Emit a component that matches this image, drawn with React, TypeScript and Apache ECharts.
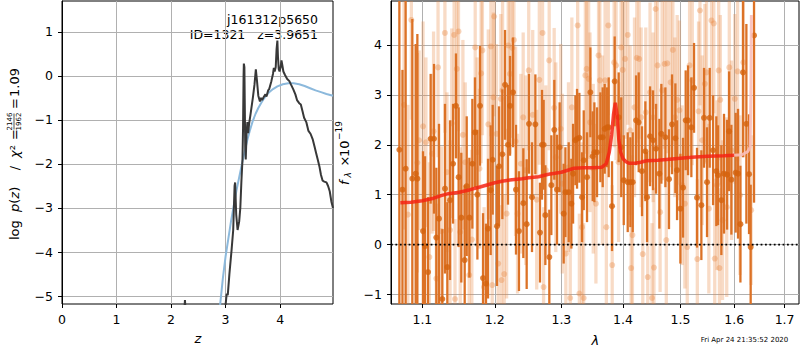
import { useEffect, useRef } from "react";
import * as echarts from "echarts";

// ---------------- Left panel: log p(z) ----------------
const Z_TICKS = [0, 1, 2, 3, 4];
const LOGP_TICKS = [-5, -4, -3, -2, -1, 0, 1];
const Z_LIMITS = [0, 4.97];
const LOGP_LIMITS = [-5.18, 1.7];

// [z, log p(z)] – isolated low-z blip
const PZ_BLIP: [number, number][] = [
  [2.245, -5.3], [2.255, -5.09], [2.265, -5.3],
];
// [z, log p(z)] – main solution
const PZ_CURVE: [number, number][] = [
  [2.99, -5.3], [3.0, -5.2], [3.02, -4.95], [3.04, -4.98], [3.07, -4.5],
  [3.11, -3.95], [3.14, -3.5], [3.165, -2.5], [3.175, -2.42], [3.195, -3.15],
  [3.22, -3.5], [3.25, -3.3], [3.27, -3.0], [3.29, -2.4], [3.31, -1.9],
  [3.32, -1.2], [3.33, 0.0], [3.335, 0.28], [3.345, 0.2], [3.36, -1.6],
  [3.37, -1.9], [3.385, -1.3], [3.4, -1.05], [3.415, -1.3], [3.43, -1.1],
  [3.46, -0.85], [3.5, -0.5], [3.53, -0.2], [3.555, 0.15], [3.575, -0.1],
  [3.6, -0.45], [3.63, -0.58], [3.65, -0.5], [3.67, -0.55], [3.7, -0.48],
  [3.73, -0.42], [3.75, -0.47], [3.78, -0.33], [3.8, -0.3], [3.84, -0.12],
  [3.87, 0.05], [3.885, 0.18], [3.9, 0.1], [3.92, 0.2], [3.935, 0.6],
  [3.95, 0.8], [3.96, 0.45], [3.975, 0.15], [3.99, 0.1], [4.01, 0.2],
  [4.025, 0.35], [4.04, 0.25], [4.06, 0.1], [4.09, 0.02], [4.13, -0.07],
  [4.17, -0.12], [4.2, -0.2], [4.24, -0.3], [4.28, -0.42], [4.31, -0.55],
  [4.35, -0.62], [4.38, -0.65], [4.41, -0.8], [4.44, -0.95], [4.48, -1.05],
  [4.52, -1.25], [4.56, -1.32], [4.6, -1.45], [4.63, -1.6], [4.66, -1.75],
  [4.69, -1.9], [4.72, -2.05], [4.75, -2.25], [4.78, -2.38], [4.81, -2.4],
  [4.85, -2.42], [4.88, -2.5], [4.91, -2.62], [4.94, -2.85], [4.97, -3.0],
];

// [z, log prior]
const PRIOR_CURVE: [number, number][] = [
  [2.89, -5.35], [2.9, -5.2], [2.95, -4.6], [3.0, -4.1], [3.05, -3.7], [3.1, -3.3],
  [3.15, -2.95], [3.2, -2.6], [3.25, -2.3], [3.3, -2.0], [3.35, -1.72],
  [3.4, -1.45], [3.45, -1.22], [3.5, -1.02], [3.55, -0.86], [3.6, -0.73],
  [3.65, -0.62], [3.7, -0.52], [3.75, -0.44], [3.8, -0.37], [3.87, -0.3],
  [3.95, -0.24], [4.05, -0.19], [4.15, -0.17], [4.25, -0.17], [4.35, -0.19],
  [4.45, -0.23], [4.55, -0.28], [4.65, -0.33], [4.75, -0.37], [4.85, -0.41],
  [4.97, -0.45],
];

// ---------------- Right panel: spectrum ----------------
const LAMBDA_TICKS = [1.1, 1.2, 1.3, 1.4, 1.5, 1.6, 1.7];
const FLUX_TICKS = [-1, 0, 1, 2, 3, 4];
const LAMBDA_LIMITS = [1.0593, 1.7297];
const FLUX_LIMITS = [-1.19, 4.88];

// [lambda, flux, error] – darker spectrum
const SPEC_MAIN: [number, number, number][] = [
  [1.07, 1.9, 3.5], [1.074, 1.1, 2.4], [1.0781, 1.52, 3.4], [1.0868, 1.32, 3.2],
  [1.0912, 1.42, 2.6], [1.0934, 1.32, 2.9], [1.1008, 0.27, 1.6], [1.1035, -0.03, 1.8],
  [1.1075, -0.55, 1.5], [1.111, 2.12, 1.3], [1.1155, 2.12, 1.5], [1.1186, 0.14, 1.4],
  [1.1222, 0.52, 1.9], [1.1267, -1.09, 1.4], [1.1303, 1.12, 1.7], [1.1335, -0.45, 1.3],
  [1.1372, 0.89, 1.6], [1.1413, 1.62, 1.2], [1.1453, 2.78, 1.05], [1.149, 1.35, 1.4],
  [1.1527, 0.54, 1.3], [1.1574, -0.31, 1.5], [1.1602, 1.17, 1.4], [1.1639, 0.54, 1.2],
  [1.1681, 1.62, 1.3], [1.1718, 2.25, 1.1], [1.1752, 1.0, 1.3], [1.1789, 2.78, 1.2],
  [1.1832, -0.67, 1.3], [1.1874, -0.78, 1.2], [1.1903, 0.32, 1.4], [1.1941, 1.09, 1.3],
  [1.197, 1.7, 1.1], [1.2032, 0.37, 1.2], [1.2061, 1.57, 1.2], [1.211, 1.81, 1.3],
  [1.2149, 3.2, 1.1], [1.2192, 2.0, 1.2], [1.2222, 2.78, 1.0], [1.2266, 3.05, 1.1],
  [1.231, 1.1, 1.3], [1.2354, 0.27, 1.2], [1.2419, 0.83, 1.1], [1.2469, 0.41, 1.3],
  [1.2504, 2.42, 1.0], [1.2549, 0.95, 1.1], [1.26, 2.41, 1.0], [1.267, 0.24, 1.0],
  [1.2701, 2.0, 1.1], [1.2726, 2.0, 0.9], [1.2752, 0.59, 1.0], [1.2813, -0.25, 0.95],
  [1.2844, 1.19, 1.0], [1.289, 2.3, 1.0], [1.2932, 1.1, 1.1], [1.2973, 1.95, 0.9],
  [1.3036, 0.62, 1.0], [1.3063, 1.05, 0.9], [1.3115, 1.05, 1.0], [1.3157, 0.82, 0.9],
  [1.3184, 1.42, 1.0], [1.3221, 2.09, 0.9], [1.3247, 2.12, 1.0], [1.3284, 2.14, 0.9],
  [1.3327, 0.95, 0.9], [1.3354, 1.69, 1.0], [1.3407, 1.35, 0.9], [1.3461, 3.05, 0.9],
  [1.3499, 1.77, 0.9], [1.3526, 1.85, 1.0], [1.3569, 1.85, 0.9], [1.3624, 2.15, 0.9],
  [1.3662, 2.15, 1.0], [1.3695, 2.32, 0.9], [1.3733, 2.35, 0.8], [1.3761, 2.35, 1.0],
  [1.3816, 0.77, 0.9], [1.386, 3.27, 0.9], [1.3927, 2.55, 0.9], [1.397, 1.95, 1.0],
  [1.4012, 1.29, 0.9], [1.4079, 1.25, 1.0], [1.4124, 1.25, 0.9], [1.4164, 1.25, 1.0],
  [1.4221, 2.49, 0.9], [1.4266, 2.45, 1.0], [1.4323, 1.47, 0.9], [1.4381, 1.87, 1.0],
  [1.441, 0.95, 0.9], [1.4462, 2.17, 1.0], [1.4514, 2.09, 1.0], [1.4567, 1.92, 0.9],
  [1.4625, 1.42, 1.1], [1.466, 2.22, 1.0], [1.4731, 2.15, 1.0], [1.4795, 1.31, 1.0],
  [1.4849, 2.41, 1.0], [1.4909, 2.13, 1.1], [1.4939, 1.49, 1.0], [1.4999, 0.72, 1.1],
  [1.5047, 1.14, 1.0], [1.5095, 2.49, 1.0], [1.5138, 2.49, 1.1], [1.5198, 2.35, 1.0],
  [1.5247, 3.14, 0.9], [1.5302, 0.94, 1.0], [1.5382, 0.79, 1.1], [1.5431, 2.54, 1.0],
  [1.5487, 1.25, 1.1], [1.5537, 2.54, 1.0], [1.56, 1.89, 1.1], [1.5661, 1.47, 1.1],
  [1.5693, 1.39, 1.0], [1.5756, 0.89, 1.1], [1.5806, 1.42, 1.2], [1.5865, 1.4, 1.1],
  [1.5903, 2.27, 1.2], [1.5947, 1.3, 1.1], [1.603, 1.44, 1.2], [1.6075, 1.42, 1.3],
  [1.6121, 0.41, 1.17], [1.6172, 3.45, 1.7], [1.6237, 2.42, 2.0], [1.6289, 1.41, 1.2],
  [1.6321, -0.05, 1.25], [1.6387, 4.19, 3.35],
];

// [lambda, flux, error] – paler spectrum
const SPEC_ALT: [number, number, number][] = [
  [1.076, 2.8, 2.5], [1.081, 0.6, 2.2], [1.0855, 4.5, 2.0], [1.0934, 1.64, 2.2],
  [1.0956, 2.09, 1.8], [1.1009, 2.37, 2.1], [1.1047, 2.05, 1.7], [1.1093, -0.25, 1.9],
  [1.113, 1.82, 1.6], [1.1149, 2.27, 2.0], [1.1186, -0.68, 1.5], [1.1209, 3.55, 1.8],
  [1.1256, 0.27, 1.7], [1.1302, 4.24, 2.0], [1.133, 1.45, 1.6], [1.1372, 0.29, 1.8],
  [1.1395, 2.43, 1.9], [1.1428, 4.2, 1.7], [1.144, -1.09, 1.6], [1.1465, 3.52, 1.8],
  [1.1488, 4.27, 2.0], [1.1512, 0.25, 1.7], [1.1549, 2.2, 1.9], [1.1581, 1.65, 1.6],
  [1.1637, -0.61, 1.5], [1.1674, 0.1, 1.8], [1.1721, 3.95, 1.7], [1.1748, 1.85, 1.9],
  [1.1781, 1.52, 1.6], [1.1805, 3.43, 1.8], [1.1823, 3.89, 1.7], [1.1847, -0.85, 1.6],
  [1.1907, 2.41, 1.9], [1.1944, 3.97, 1.8], [1.1963, -0.81, 1.5], [1.198, 2.95, 1.7],
  [1.1991, 4.57, 2.0], [1.2025, 2.22, 1.8], [1.2049, -0.38, 1.6], [1.2088, 2.92, 1.7],
  [1.2098, -0.71, 1.5], [1.2113, 3.09, 1.8], [1.2137, -0.59, 1.6], [1.2172, 0.62, 1.7],
  [1.2196, 3.99, 1.9], [1.2221, 3.42, 1.6], [1.2255, 3.94, 1.8], [1.2279, 4.1, 1.7],
  [1.2304, 2.07, 1.9], [1.2333, 0.62, 1.6], [1.2382, 1.62, 1.8], [1.2417, 2.55, 1.7],
  [1.2456, 1.49, 1.9], [1.25, 3.49, 1.6], [1.256, 2.6, 1.7], [1.262, 0.9, 1.8],
  [1.266, 3.3, 1.7], [1.2709, 4.24, 1.8], [1.2725, -0.85, 1.6], [1.276, 1.49, 1.7],
  [1.2811, 3.69, 1.8], [1.2888, 2.74, 1.6], [1.2913, 1.75, 1.9], [1.299, 2.32, 1.7],
  [1.3016, 1.22, 1.8], [1.307, -0.18, 1.6], [1.3112, 1.55, 1.7], [1.3139, -1.07, 1.5],
  [1.3165, 2.75, 1.8], [1.3257, 4.39, 1.9], [1.3284, -0.98, 1.6], [1.3326, 0.35, 1.7],
  [1.3353, -1.07, 1.5], [1.338, 3.39, 1.8], [1.3401, 3.52, 1.7], [1.3433, 3.32, 1.6],
  [1.3455, 2.45, 1.8], [1.3508, 1.52, 1.7], [1.3551, 0.82, 1.6], [1.3594, 3.79, 1.8],
  [1.3615, 3.29, 1.7], [1.3658, 1.89, 1.9], [1.3701, 3.29, 1.6], [1.3722, 0.35, 1.7],
  [1.3754, 4.39, 1.8], [1.3819, -0.41, 1.6], [1.3851, 3.65, 1.7], [1.3883, 3.59, 1.9],
  [1.3925, 1.65, 1.6], [1.3968, 3.95, 1.8], [1.3995, 3.5, 1.7], [1.4034, 3.72, 1.6],
  [1.408, 4.2, 1.8], [1.412, 2.29, 1.7], [1.4137, -0.47, 1.5], [1.4159, 0.19, 1.6],
  [1.4194, 2.75, 1.8], [1.4234, 3.74, 1.7], [1.4274, 3.72, 1.6], [1.4308, 2.55, 1.8],
  [1.4336, -0.19, 1.6], [1.4388, 2.65, 1.7], [1.4422, -0.65, 1.6], [1.4462, 3.05, 1.8],
  [1.4496, -1.07, 1.5], [1.4515, 2.55, 1.7], [1.453, -0.46, 1.6], [1.4559, 4.72, 2.0],
  [1.4593, 3.59, 1.7], [1.4638, 0.65, 1.6], [1.4673, 3.09, 1.8], [1.4718, 3.62, 1.7],
  [1.4747, 0.09, 1.6], [1.4764, 3.63, 1.8], [1.4823, 3.25, 1.7], [1.4864, 3.9, 1.9],
  [1.49, 2.55, 1.6], [1.4941, 2.9, 1.7], [1.4982, 2.69, 1.8], [1.5031, 1.19, 1.6],
  [1.508, 0.82, 1.7], [1.5123, -0.05, 1.6], [1.5166, 3.59, 1.8], [1.5215, 3.29, 1.7],
  [1.5307, -0.29, 1.6], [1.533, 2.67, 1.8], [1.5356, 4.69, 1.9], [1.5398, 2.09, 1.7],
  [1.5447, 3.22, 1.6], [1.5478, 3.45, 1.8], [1.5521, 0.72, 1.7], [1.557, 4.49, 1.9],
  [1.5613, 4.43, 1.8], [1.5631, -0.28, 1.6], [1.5674, 1.19, 1.7], [1.5705, 3.49, 1.8],
  [1.572, -0.47, 1.6], [1.5736, 2.9, 1.7], [1.5778, 0.49, 1.6], [1.5858, 0.75, 1.8],
  [1.5907, 3.55, 1.7], [1.595, 1.89, 1.8], [1.6013, 2.92, 1.7], [1.6066, 3.47, 1.8],
  [1.6112, 0.99, 1.6], [1.6178, 3.65, 1.9], [1.633, 0.69, 1.5],
];

// [lambda, flux] – model
const MODEL: [number, number][] = [
  [1.0713, 0.84], [1.085, 0.85], [1.1, 0.88], [1.115, 0.93], [1.125, 0.98],
  [1.135, 1.02], [1.15, 1.05], [1.165, 1.1], [1.18, 1.16], [1.19, 1.2],
  [1.2, 1.24], [1.21, 1.27], [1.225, 1.3], [1.24, 1.32], [1.25, 1.34],
  [1.265, 1.36], [1.28, 1.41], [1.29, 1.43], [1.3, 1.45], [1.31, 1.49],
  [1.32, 1.53], [1.335, 1.54], [1.35, 1.54], [1.365, 1.55], [1.372, 1.62],
  [1.377, 1.85], [1.381, 2.2], [1.384, 2.6], [1.387, 2.84], [1.39, 2.6],
  [1.393, 2.1], [1.396, 1.85], [1.4, 1.72], [1.405, 1.66], [1.41, 1.63],
  [1.42, 1.63], [1.43, 1.65], [1.44, 1.68], [1.46, 1.69], [1.48, 1.71],
  [1.5, 1.73], [1.52, 1.75], [1.55, 1.77], [1.58, 1.78], [1.6, 1.79],
];
const MODEL_TAIL: [number, number][] = [
  [1.6, 1.79], [1.615, 1.8], [1.626, 1.86], [1.631, 1.95], [1.6325, 3.0], [1.6335, 4.6],
];

const FONT = "DejaVu Sans";
const minus = (v: number) => String(v).replace("-", "\u2212");

const txt = (text: string, x: number, y: number, align: string, size = 13, italic = false) => ({
  type: "text",
  x,
  y,
  silent: true,
  style: {
    text,
    fontSize: size,
    fontFamily: FONT,
    fontStyle: italic ? "italic" : "normal",
    fill: "#000",
    align,
    textAlign: align,
    verticalAlign: "middle",
    textVerticalAlign: "middle",
  },
});

const richTxt = (text: string, x: number, y: number, size = 13) => ({
  type: "text",
  x,
  y,
  silent: true,
  style: {
    text,
    fill: "#000",
    fontSize: size,
    fontFamily: FONT,
    align: "left",
    textAlign: "left",
    verticalAlign: "middle",
    textVerticalAlign: "middle",
    rich: {
      n: { fontSize: size, fontFamily: FONT, fill: "#000" },
      i: { fontSize: size, fontFamily: FONT, fontStyle: "italic", fill: "#000" },
    },
  },
});

const errorBars = (width: number, color: string) => (_p: any, api: any) => {
  const x = api.value(0);
  const y = api.value(1);
  const e = api.value(2);
  const lo = Math.max(y - e, FLUX_LIMITS[0]);
  const hi = Math.min(y + e, FLUX_LIMITS[1]);
  if (hi <= lo) return null;
  const p1 = api.coord([x, hi]);
  const p2 = api.coord([x, lo]);
  return {
    type: "rect",
    shape: { x: p1[0] - width / 2, y: p1[1], width, height: p2[1] - p1[1] },
    style: { fill: color },
  };
};

export default function App() {
  const ref = useRef<HTMLDivElement>(null);
  useEffect(() => {
    if (!ref.current) return;
    const chart = echarts.init(ref.current, null, { renderer: "svg" });
    const ln = Math.log;
    const tickLabel = { fontSize: 12.5, color: "#000", fontFamily: FONT };
    const gridLine = { show: true, lineStyle: { color: "#b0b0b0", width: 1 } };
    const xAxisLine = { show: false, onZero: false };
    const yAxisLine = { show: true, onZero: false, lineStyle: { color: "#000", width: 1 } };
    const tick = (vals: number[]) => ({
      show: true,
      inside: false,
      length: 4,
      lineStyle: { color: "#000", width: 1 },
      customValues: vals,
    });

    const option: any = {
      animation: false,
      textStyle: { fontFamily: FONT },
      grid: [
        { left: 62, top: 1, width: 271, height: 303, show: true, borderColor: "#000", borderWidth: 1, containLabel: false },
        { left: 391, top: 1, width: 408, height: 303, show: true, borderColor: "#000", borderWidth: 1, containLabel: false },
      ],
      xAxis: [
        {
          type: "value", gridIndex: 0, min: Z_LIMITS[0], max: Z_LIMITS[1],
          axisLine: xAxisLine, axisTick: tick(Z_TICKS),
          axisLabel: { ...tickLabel, margin: 9, customValues: Z_TICKS, formatter: (v: number) => minus(v) },
          splitLine: gridLine,
        },
        {
          type: "value", gridIndex: 1, min: ln(LAMBDA_LIMITS[0]), max: ln(LAMBDA_LIMITS[1]),
          axisLine: xAxisLine, axisTick: tick(LAMBDA_TICKS.map(ln)),
          axisLabel: {
            ...tickLabel, margin: 9, customValues: LAMBDA_TICKS.map(ln),
            formatter: (v: number) => Math.exp(v).toFixed(1),
          },
          splitLine: gridLine,
        },
      ],
      yAxis: [
        {
          type: "value", gridIndex: 0, min: LOGP_LIMITS[0], max: LOGP_LIMITS[1],
          axisLine: yAxisLine, axisTick: tick(LOGP_TICKS),
          axisLabel: { ...tickLabel, margin: 9, customValues: LOGP_TICKS, formatter: (v: number) => minus(v) },
          splitLine: gridLine,
        },
        {
          type: "value", gridIndex: 1, min: FLUX_LIMITS[0], max: FLUX_LIMITS[1],
          axisLine: yAxisLine, axisTick: tick(FLUX_TICKS),
          axisLabel: { ...tickLabel, margin: 9, customValues: FLUX_TICKS, formatter: (v: number) => minus(v) },
          splitLine: gridLine,
        },
      ],
      series: [
        {
          type: "line", xAxisIndex: 0, yAxisIndex: 0, data: PRIOR_CURVE, showSymbol: false,
          lineStyle: { color: "#8cb9dc", width: 2 }, clip: true, z: 2, silent: true,
        },
        {
          type: "line", xAxisIndex: 0, yAxisIndex: 0, data: PZ_BLIP, showSymbol: false,
          lineStyle: { color: "#383838", width: 2 }, clip: true, z: 3, silent: true,
        },
        {
          type: "line", xAxisIndex: 0, yAxisIndex: 0, data: PZ_CURVE, showSymbol: false,
          lineStyle: { color: "#383838", width: 2 }, clip: true, z: 3, silent: true,
        },
        {
          type: "custom", xAxisIndex: 1, yAxisIndex: 1, clip: true, z: 2, silent: true,
          renderItem: errorBars(3.3, "rgba(232,135,66,0.3)"),
          encode: { x: 0, y: 1 },
          data: SPEC_ALT.map(([l, f, e]) => [ln(l), f, e]),
        },
        {
          type: "scatter", xAxisIndex: 1, yAxisIndex: 1, symbolSize: 6, clip: true, z: 3, silent: true,
          itemStyle: { color: "rgba(232,135,66,0.45)" },
          data: SPEC_ALT.map(([l, f]) => [ln(l), f]),
        },
        {
          type: "custom", xAxisIndex: 1, yAxisIndex: 1, clip: true, z: 4, silent: true,
          renderItem: errorBars(2.3, "#dc7226"),
          encode: { x: 0, y: 1 },
          data: SPEC_MAIN.map(([l, f, e]) => [ln(l), f, e]),
        },
        {
          type: "scatter", xAxisIndex: 1, yAxisIndex: 1, symbolSize: 6, clip: true, z: 5, silent: true,
          itemStyle: { color: "#d5630e" },
          data: SPEC_MAIN.map(([l, f]) => [ln(l), f]),
        },
        {
          type: "line", xAxisIndex: 1, yAxisIndex: 1, showSymbol: false, clip: true, z: 6, silent: true,
          lineStyle: { color: "rgba(250,190,185,0.9)", width: 3 },
          data: MODEL_TAIL.map(([l, f]) => [ln(l), f]),
        },
        {
          type: "line", xAxisIndex: 1, yAxisIndex: 1, showSymbol: false, clip: true, z: 6, silent: true,
          lineStyle: { color: "rgba(245,35,20,0.85)", width: 3.5 },
          data: MODEL.map(([l, f]) => [ln(l), f]),
        },
        {
          type: "line", xAxisIndex: 1, yAxisIndex: 1, showSymbol: false, clip: true, z: 7, silent: true,
          lineStyle: { color: "#000", width: 1.8, type: [1.8, 2.6], cap: "butt" },
          data: [[ln(LAMBDA_LIMITS[0]), 0], [ln(LAMBDA_LIMITS[1]), 0]],
        },
      ],
      graphic: [
        txt("j161312p5650", 318, 19.5, "right", 12.5),
        txt("ID=1321   z=3.9651", 318, 34, "right", 12.5),
        txt("z", 197.8, 338.5, "center", 13, true),
        txt("λ", 595.3, 340, "center", 13, true),
        txt("Fri Apr 24 21:35:52 2020", 744.5, 339.7, "center", 7),
        {
          type: "group", x: 14, y: 154, rotation: Math.PI / 2, silent: true,
          children: [
            txt("log", -86, 0, "left", 13),
            richTxt("{i|p}{n|(}{i|z}{n|)}", -58, 0, 13),
            txt("/", -14, 0, "center", 13),
            richTxt("{i|χ}{n|²}", -4, 0, 13),
            txt("=", 19.5, 0, "center", 13),
            txt("2146", 32.5, -4, "center", 7),
            { type: "line", shape: { x1: 24.5, y1: 0, x2: 40.5, y2: 0 }, style: { stroke: "#000", lineWidth: 0.7 } },
            txt("1962", 32.5, 4.5, "center", 7),
            txt("=", 50.5, 0, "center", 13),
            txt("1.09", 57, 0, "left", 13),
          ],
        },
        {
          type: "group", x: 344, y: 153.5, rotation: Math.PI / 2, silent: true,
          children: [
            txt("f", -31.5, 0, "left", 13, true),
            txt("λ", -24, 4, "left", 9, true),
            txt("×", -13, 0, "left", 13),
            txt("10", -3.5, 0, "left", 13),
            txt("\u221219", 13.5, -5, "left", 9),
          ],
        },
      ],
    };
    chart.setOption(option);
    return () => chart.dispose();
  }, []);
  return <div ref={ref} style={{ position: "absolute", left: 0, top: 0, width: 800, height: 350 }} />;
}
